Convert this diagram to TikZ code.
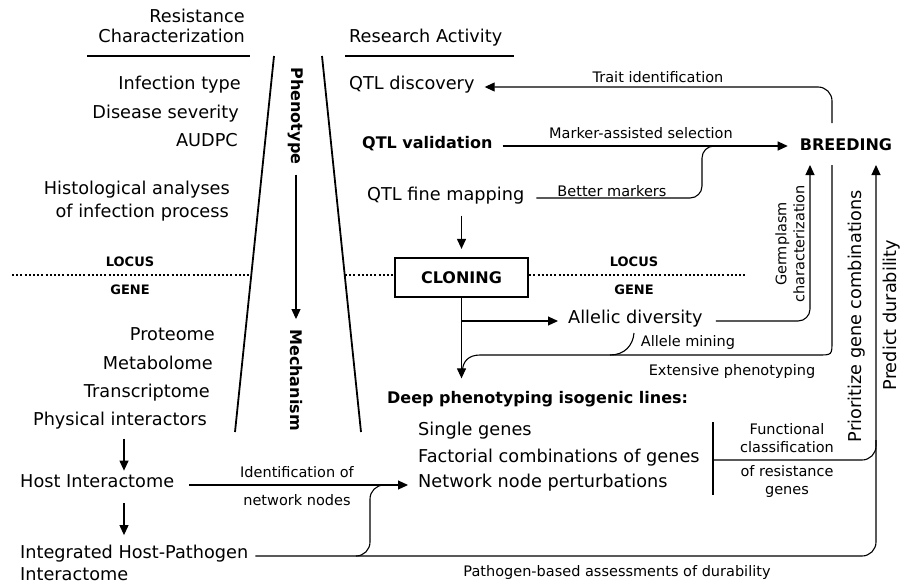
\documentclass[tikz,border=0pt]{standalone}
\usepackage{fontspec}
\setmainfont{DejaVu Sans}
\usetikzlibrary{arrows.meta,calc}
\begin{document}
\begin{tikzpicture}[x=1pt,y=-1pt,
  txt/.style={inner sep=0pt,font=\fontsize{17.7}{21}\selectfont},
  txtb/.style={inner sep=0pt,font=\fontsize{16}{19}\selectfont\bfseries},
  lbl/.style={inner sep=0pt,font=\fontsize{14.5}{18}\selectfont,align=center},
  lvl/.style={inner sep=0pt,font=\fontsize{13}{15}\selectfont\bfseries},
  conn/.style={line width=1.1pt},
  arr/.style={conn,-{Triangle[length=10pt,width=9pt]}},
  rulel/.style={line width=2pt},
  side/.style={line width=1.8pt},
  dots/.style={line width=2pt,dash pattern=on 2pt off 2.2pt},
  boxed/.style={draw,line width=2.2pt,minimum width=133pt,minimum height=39pt,inner sep=0pt,font=\fontsize{16}{19}\selectfont\bfseries},
]
\fill[white] (0,0) rectangle (904,584);
\path[use as bounding box] (0,0) rectangle (904,584);

% headers
\node[txt,anchor=mid east] (rc1) at (245,20) {Resistance};
\node[txt,anchor=mid east] (rc2) at (245,40) {Characterization};
\node[txt,anchor=mid west] (ra) at (349,40) {Research Activity};
\draw[rulel] (87,56) -- (250,56);
\draw[rulel] (345,56) -- (514,56);

% funnel
\draw[side] (274,56) -- (235,432);
\draw[side] (322,56) -- (361,432);
\node[txtb,rotate=-90] (phe) at (296,116) {Phenotype};
\node[txtb,rotate=-90] (mec) at (296,380) {Mechanism};
\draw[arr,shorten <=10pt,shorten >=10pt] (phe.east) -- (mec.west);

% left column
\node[txt,anchor=mid east] (inf) at (241,87) {Infection type};
\node[txt,anchor=mid east] (dis) at (239,116) {Disease severity};
\node[txt,anchor=mid east] (aud) at (238,144) {AUDPC};
\node[txt,anchor=mid east] (his1) at (230,192) {Histological analyses};
\node[txt,anchor=mid east] (his2) at (229,215) {of infection process};

\coordinate (dl) at (0,275);
\node[lvl] (loc1) at (130,262) {LOCUS};
\node[lvl] (gen1) at (130,290) {GENE};
\draw[dots] (12,275) -- (251,275);

\node[txt,anchor=mid east] (pro) at (215,338) {Proteome};
\node[txt,anchor=mid east] (met) at (213,367) {Metabolome};
\node[txt,anchor=mid east] (tra) at (210,395) {Transcriptome};
\node[txt,anchor=mid east] (phy) at (207,423) {Physical interactors};
\node[txt,anchor=mid west] (hi) at (20,485) {Host Interactome};
\node[txt,anchor=mid west] (ihp) at (20,556) {Integrated Host-Pathogen};
\node[txt,anchor=mid west] (iht) at (20,578) {Interactome};
\coordinate (a1) at (124,0);
\draw[arr,shorten <=9pt,shorten >=4pt] (phy.south -| a1) -- (hi.north -| a1);
\draw[arr,shorten <=15pt,shorten >=10pt] (hi.south -| a1) -- (ihp.north -| a1);

% research column
\node[txt,anchor=mid west] (qd) at (349,87) {QTL discovery};
\node[txtb,anchor=mid west] (qv) at (362,146) {QTL validation};
\node[txt,anchor=mid west] (qf) at (367,198) {QTL fine mapping};
\node[txtb] (brd) at (846,145) {BREEDING};
\node[boxed] (clon) at (461.5,277.5) {CLONING};
\node[lvl] (loc2) at (634,262) {LOCUS};
\node[lvl] (gen2) at (634,290) {GENE};
\draw[dots] (345,275) -- (clon.west |- dl);
\draw[dots] (clon.east |- dl) -- (747,275);

\node[txt,anchor=mid west] (all) at (568,321) {Allelic diversity};
\node[txtb,anchor=mid west] (deep) at (387,401) {Deep phenotyping isogenic lines:};
\node[txt,anchor=mid west] (sg) at (418,433) {Single genes};
\node[txt,anchor=mid west] (fc) at (418,460) {Factorial combinations of genes};
\node[txt,anchor=mid west] (nnp) at (418,485) {Network node perturbations};

% labels
\node[lbl] (ltrait) at (658,77) {Trait identification};
\node[lbl] (lmas) at (641,133) {Marker-assisted selection};
\node[lbl] (lbm) at (612,191) {Better markers};
\node[lbl,rotate=90] (lgerm) at (790,244) {Germplasm\\characterization};
\node[lbl] (lam) at (688,342) {Allele mining};
\node[lbl] (lext) at (732,371) {Extensive phenotyping};
\node[lbl] (lfc1) at (787,438) {Functional\\classification};
\node[lbl] (lfc2) at (787,481) {of resistance\\genes};
\node[lbl] (lid1) at (297,472) {Identification of};
\node[lbl] (lid2) at (297,500) {network nodes};
\node[lbl] (lpb) at (617,572) {Pathogen-based assessments of durability};
\node[txt,rotate=90] (lpri) at (857,316) {Prioritize gene combinations};
\node[txt,rotate=90] (lpre) at (892,315) {Predict durability};

% coordinates
\coordinate (tTop) at (832,123);
\coordinate (gTip) at (810,165);
\coordinate (eTop) at (832,165);
\coordinate (pTip) at (876,165);
\coordinate (bmj) at (702,146);

% connectors
\draw[arr,rounded corners=14pt] (tTop) |- ([xshift=10pt]qd.mid east);
\draw[arr,shorten <=10pt,shorten >=12pt] (qv.mid east) -- (qv.mid east -| brd.west);
\draw[conn,rounded corners=12pt] ([xshift=12pt]qf.mid east) -| (bmj) -- ($(bmj)+(28,0)$);
\draw[arr,shorten <=11pt,shorten >=8pt] (qf.south -| clon.north) -- (clon.north);
\draw[arr,shorten >=13pt] (clon.south) -- (clon.south |- deep.north);
\draw[arr,shorten >=10pt] (clon.south |- all.mid west) -- (all.mid west);
\draw[arr,rounded corners=12pt] ([xshift=13pt]all.mid east) -| (gTip);
\draw[conn] (eTop) -- (832,341) .. controls (832,355) .. (818,355) -- (480,355)
  .. controls (468,355) and (463,362) .. (462.5,370);
\draw[conn] (610,355) .. controls (625,355) and (633,345) .. (634,333);

\draw[line width=2pt] (713,422) -- (713,495);
\draw[conn,rounded corners=14pt] (713,460) -| (876,440);
\draw[arr,rounded corners=14pt] ([xshift=7pt]ihp.mid east) -| (pTip);
\draw[conn,rounded corners=14pt] (356,556) -| (370,485) -- (392,485);
\draw[arr,shorten <=15pt,shorten >=10pt] (hi.mid east) -- (nnp.mid west);
\end{tikzpicture}
\end{document}
